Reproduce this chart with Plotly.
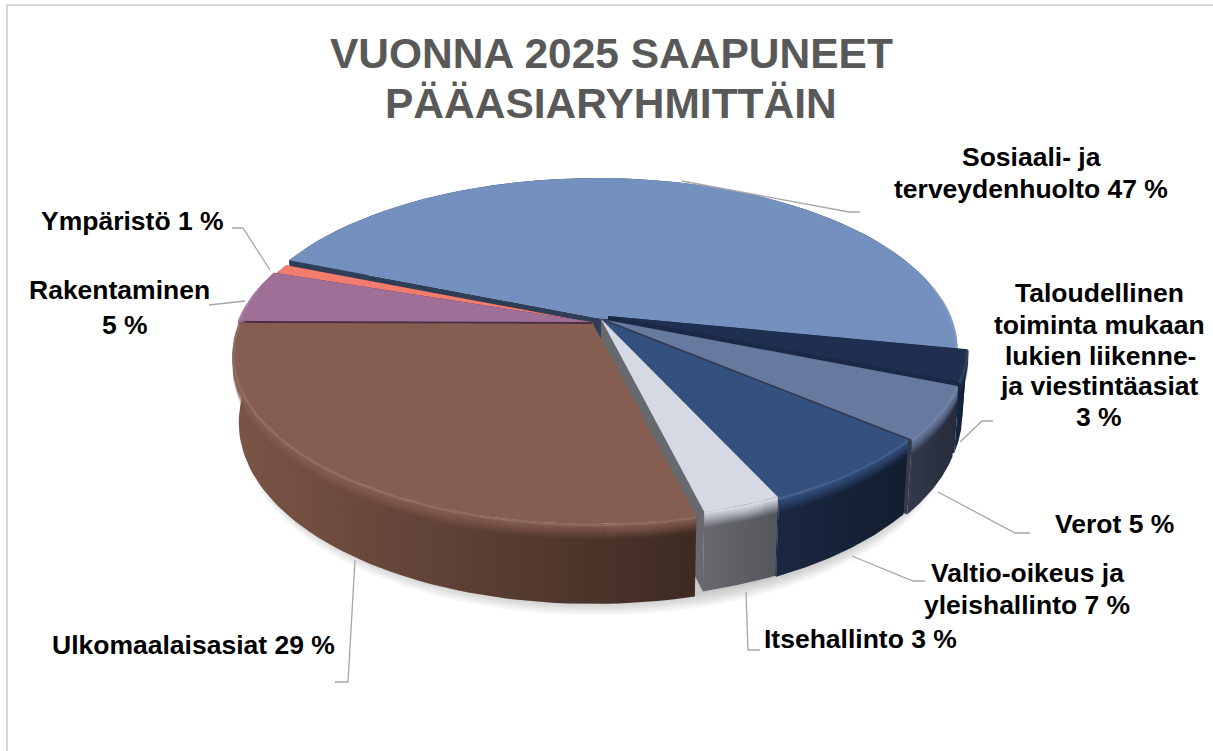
import math
import plotly.graph_objects as go

# ---- data ----
categories = ["Sosiaali- ja terveydenhuolto", "Taloudellinen toiminta", "Verot", "Valtio-oikeus ja yleishallinto",
              "Itsehallinto", "Ulkomaalaisasiat", "Rakentaminen", "Ympäristö"]
shares = [47, 3, 5, 7, 3, 29, 5, 1]

# ---- style ----
top_colors = ["#7490be", "#1f2f4f", "#66799f", "#34507f", "#d4d9e4", "#855e51", "#a06f98", "#f27c6e"]
wall_left = ["#2f3e58", "#1a2945", "#343a4c", "#1a2740", "#68696e", "#7b5546", "#4a2e48", "#7a3d36"]
wall_right = ["#2f3e58", "#0f1a2e", "#262b3a", "#131d30", "#54565b", "#3e2a22", "#4a2e48", "#7a3d36"]
explode = [(0, -2), (11, -4), (9, 0), (5, 0), (4, -1), (-4, 4), (-5, 2), (-3, 3)]
draw_order = [0, 7, 6, 1, 2, 3, 4, 5]
START_DEG = 292.0
CX, CY, A, B, K = 597.0, 320.0, 354.0, 164.7, 0.1765
BEVEL = 16


def top_pt(deg, off):
    t = math.radians(deg)
    u, v = math.sin(t), -math.cos(t)
    w = 1 - K * v
    return CX + A * u / w + off[0], CY + B * v / w + off[1], v


def bot_pt(deg, off):
    x, y, v = top_pt(deg, off)
    return CX + off[0] + (x - CX - off[0]) * 0.985, y + 66 + 14 * v


def arc(a0, a1, n=60):
    return [a0 + (a1 - a0) * i / n for i in range(n + 1)]


def rgb(h):
    return tuple(int(h[i:i + 2], 16) for i in (1, 3, 5))


def lighten(h, f):
    r = rgb(h)
    return "rgb(%d,%d,%d)" % tuple(c + (255 - c) * f for c in r)


def poly(fig, xs, ys, color, **kw):
    fig.add_trace(go.Scatter(x=xs, y=ys, mode="lines", fill="toself", fillcolor=color,
                             line=dict(width=0, color=color), hoverinfo="skip", showlegend=False, **kw))


fig = go.Figure()

# soft shadow under the pie
full = arc(0, 360, 180)
for s in range(1, 8):
    pts = [bot_pt(d, (0, 0)) for d in full]
    poly(fig, [p[0] for p in pts], [p[1] + s * 2.2 for p in pts], "rgba(0,0,0,0.03)")

# angular extents from the shares
ranges = []
cur = START_DEG
for val in shares:
    ranges.append((cur, cur + val * 3.6))
    cur += val * 3.6

for i in draw_order:
    a0, a1 = ranges[i]
    off = explode[i]
    col = top_colors[i]
    a = arc(a0, a1)
    top = [top_pt(d, off) for d in a]
    bot = [bot_pt(d, off) for d in a]
    ax, ay = CX + off[0], CY + off[1]
    adx, ady = ax, ay + 70
    # cut faces
    for end_t, end_b in ((top[0], bot[0]), (top[-1], bot[-1])):
        poly(fig, [ax, end_t[0], end_b[0], adx, ax], [ay, end_t[1], end_b[1], ady, ay], wall_left[i])
    # outer wall, shaded across its width
    xs = [p[0] for p in top] + [p[0] for p in bot][::-1]
    ys = [p[1] for p in top] + [p[1] for p in bot][::-1]
    fig.add_trace(go.Scatter(
        x=xs, y=ys, mode="lines", fill="toself", line=dict(width=0), hoverinfo="skip", showlegend=False,
        fillgradient=dict(type="horizontal",
                          colorscale=[[0, wall_left[i]], [1, wall_right[i]]])))
    # bevel: top colour fading down the wall
    r, g, b = rgb(col)
    front = [d for d in a if top_pt(d, off)[2] > -0.2]
    if len(front) > 1:
        fx = [top_pt(d, off)[0] for d in front]
        fy = [top_pt(d, off)[1] for d in front]
        for k in range(BEVEL, 0, -1):
            alpha = (1 - k / (BEVEL + 1)) ** 1.3
            fig.add_trace(go.Scatter(x=fx, y=[y + k for y in fy], mode="lines",
                                     line=dict(width=1.6, color=f"rgba({r},{g},{b},{alpha:.3f})"),
                                     hoverinfo="skip", showlegend=False))
    # top face
    poly(fig, [ax] + [p[0] for p in top] + [ax], [ay] + [p[1] for p in top] + [ay], col)
    # highlight along the rim
    if len(front) > 1:
        fig.add_trace(go.Scatter(x=fx, y=[y + 1 for y in fy], mode="lines",
                                 line=dict(width=2.5, color=lighten(col, 0.18)),
                                 opacity=0.5, hoverinfo="skip", showlegend=False))

# ---- leader lines ----
leaders = [
    [(682, 181), (849, 212), (860, 212)],
    [(232, 228), (243, 228), (270, 270)],
    [(209, 305), (245, 301)],
    [(355, 560), (348, 682), (335, 682)],
    [(746, 592), (748, 650), (760, 650)],
    [(852, 556), (913, 581), (925, 581)],
    [(938, 492), (1015, 533), (1030, 533)],
    [(960, 442), (982, 421), (993, 421)],
]
for ln in leaders:
    fig.add_trace(go.Scatter(x=[p[0] for p in ln], y=[p[1] for p in ln], mode="lines",
                             line=dict(color="#a6a6a6", width=1.3), hoverinfo="skip", showlegend=False))

# ---- text ----
label_lines = [
    ("Sosiaali- ja", 1031, 157),
    ("terveydenhuolto 47 %", 1031, 189),
    ("Ympäristö 1 %", 132, 221),
    ("Rakentaminen", 119, 290),
    ("5 %", 125, 325),
    ("Taloudellinen", 1099, 293),
    ("toiminta mukaan", 1099, 325),
    ("lukien liikenne-", 1100, 356),
    ("ja viestintäasiat", 1099, 386),
    ("3 %", 1099, 417),
    ("Verot 5 %", 1114, 524),
    ("Valtio-oikeus ja", 1027, 573),
    ("yleishallinto 7 %", 1027, 605),
    ("Itsehallinto 3 %", 860, 639),
    ("Ulkomaalaisasiat 29 %", 193, 645),
]
annotations = [dict(x=x, y=y, text=f"<b>{t}</b>", showarrow=False, xanchor="center", yanchor="middle",
                    font=dict(family="Liberation Sans", size=26.5, color="#000000"))
               for t, x, y in label_lines]
for t, y in (("VUONNA 2025 SAAPUNEET", 53), ("PÄÄASIARYHMITTÄIN", 103)):
    annotations.append(dict(x=611, y=y, text=f"<b>{t}</b>", showarrow=False, xanchor="center", yanchor="middle",
                            font=dict(family="Liberation Sans", size=42.5, color="#595959")))

fig.update_layout(
    width=1213, height=751, margin=dict(l=0, r=0, t=0, b=0),
    paper_bgcolor="white", plot_bgcolor="white", showlegend=False,
    xaxis=dict(range=[0, 1213], visible=False, fixedrange=True),
    yaxis=dict(range=[751, 0], visible=False, fixedrange=True),
    annotations=annotations,
    shapes=[dict(type="rect", xref="x", yref="y", x0=7, y0=5, x1=1300, y1=800,
                 line=dict(color="#d9d9d9", width=2), layer="below")],
)
fig.write_html("out.html", config=dict(displayModeBar=False), post_script="document.body.style.margin='0';")
